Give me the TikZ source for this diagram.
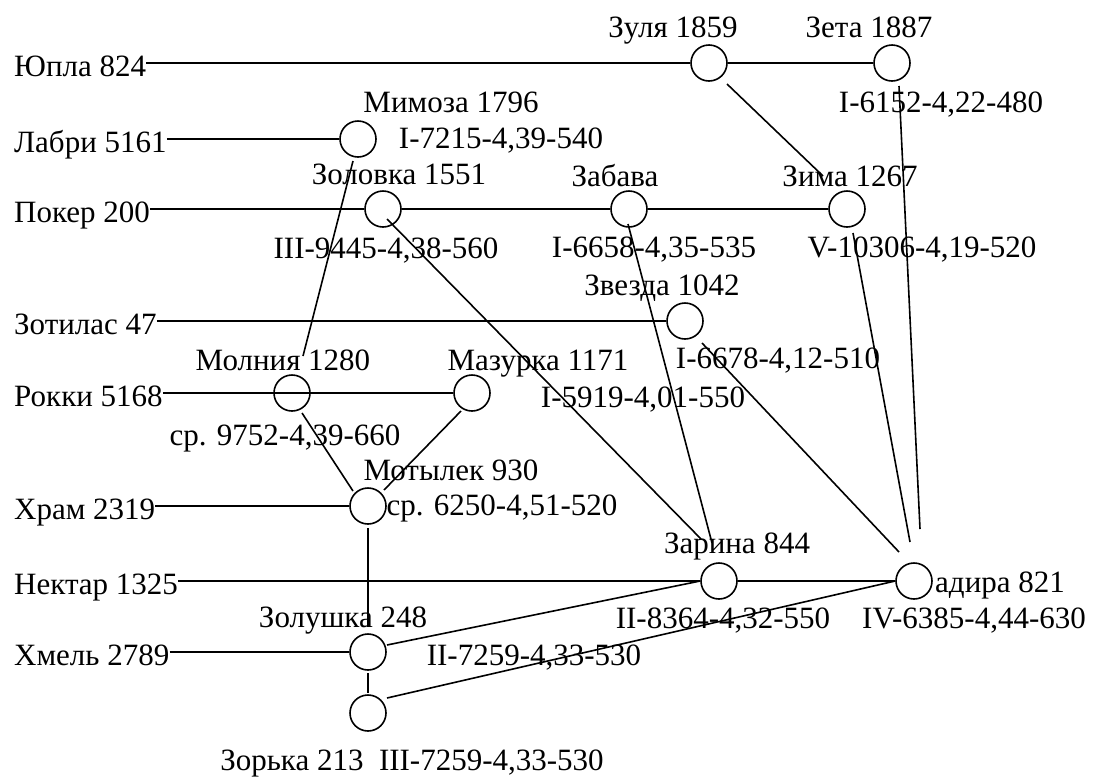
\documentclass[tikz,border=0pt]{standalone}
\usepackage{fontspec}
\setmainfont{Liberation Serif}
\usetikzlibrary{calc}
\begin{document}
\begin{tikzpicture}[x=1pt,y=-1pt,
  font=\fontsize{31}{37}\selectfont,
  stn/.style={ellipse/.try, circle, draw, line width=1.6pt, minimum width=34pt, minimum height=36pt, inner sep=0pt},
  lbl/.style={inner sep=0pt, anchor=base},
  src/.style={inner sep=0pt, anchor=base west},
  link/.style={line width=1.6pt}]
\useasboundingbox (0,0) rectangle (1094,780);

% horse names on the left
\node[src] (yupla)   at (14,76)  {Юпла 824};
\node[src] (labri)   at (14,152) {Лабри 5161};
\node[src] (poker)   at (14,222) {Покер 200};
\node[src] (zotilas) at (14,334) {Зотилас 47};
\node[src] (rokki)   at (14,406) {Рокки 5168};
\node[src] (khram)   at (14,519) {Храм 2319};
\node[src] (nektar)  at (14,594) {Нектар 1325};
\node[src] (khmel)   at (14,665) {Хмель 2789};

% descendants
\node[stn] (zuly)     at (709,63)  {};
\node[stn] (zeta)     at (892,63)  {};
\node[stn] (mimosa)   at (358,139) {};
\node[stn] (zolovka)  at (383,209) {};
\node[stn] (zabava)   at (629,209) {};
\node[stn] (zima)     at (847,209) {};
\node[stn] (zvezda)   at (685,321) {};
\node[stn] (molniya)  at (292,393) {};
\node[stn] (mazurka)  at (472,393) {};
\node[stn] (motylek)  at (368,506) {};
\node[stn] (zarina)   at (719,581) {};
\node[stn] (nadira)   at (914,581) {};
\node[stn] (zolushka) at (368,652) {};
\node[stn] (zorka)    at (368,713) {};

% names and records
\node[lbl] (tzuly)    at (673,37)  {Зуля 1859};
\node[lbl] (tzeta)    at (869,37)  {Зета 1887};
\node[lbl] (rzeta)    at (941,112) {I-6152-4,22-480};
\node[lbl] (tmimosa)  at (451,112) {Мимоза 1796};
\node[lbl] (rmimosa)  at (501,148) {I-7215-4,39-540};
\node[lbl] (tzolovka) at (399,184) {Золовка 1551};
\node[lbl] (tzabava)  at (615,186) {Забава};
\node[lbl] (tzima)    at (850,186) {Зима 1267};
\node[lbl] (rzolovka) at (386,258) {III-9445-4,38-560};
\node[lbl] (rzabava)  at (654,257) {I-6658-4,35-535};
\node[lbl] (rzima)    at (922,257) {V-10306-4,19-520};
\node[lbl] (tzvezda)  at (662,295) {Звезда 1042};
\node[lbl] (rzvezda)  at (778,368) {I-6678-4,12-510};
\node[lbl] (tmolniya) at (283,370) {Молния 1280};
\node[lbl] (tmazurka) at (538,370) {Мазурка 1171};
\node[lbl] (rmazurka) at (643,407) {I-5919-4,01-550};
\node[lbl] (rmolniya) at (285,445) {ср. 9752-4,39-660};
\node[lbl] (tmotylek) at (451,480) {Мотылек 930};
\node[lbl] (rmotylek) at (502,515) {ср. 6250-4,51-520};
\node[lbl] (tzarina)  at (737,553) {Зарина 844};
\node[src] (tnadira)  at (935,592) {адира 821};
\node[lbl] (rzarina)  at (723,628) {II-8364-4,32-550};
\node[lbl] (rnadira)  at (974,628) {IV-6385-4,44-630};
\node[lbl] (tzolushka) at (343,627) {Золушка 248};
\node[lbl] (rzolushka) at (534,665) {II-7259-4,33-530};
\node[lbl] (tzorka)   at (412,770) {Зорька 213~~III-7259-4,33-530};

% horizontal lines
\draw[link] (yupla.east |- zuly) -- (zuly) -- (zeta);
\draw[link] (labri.east |- mimosa) -- (mimosa);
\draw[link] (poker.east |- zolovka) -- (zolovka) -- (zabava) -- (zima);
\draw[link] (zotilas.east |- zvezda) -- (zvezda);
\draw[link] (rokki.east |- mazurka) -- (mazurka);
\draw[link] (khram.east |- motylek) -- (motylek);
\draw[link] (nektar.east |- zarina) -- (zarina) -- (nadira);
\draw[link] (khmel.east |- zolushka) -- (zolushka);

% pedigree links
\draw[link] ($(zuly)+(18,21)$) -- ($(zima)+(-24,-33)$);
\draw[link] ($(zeta)+(7,23)$) -- ($(nadira)+(6,-52)$);
\draw[link] ($(zima)+(6,24)$) -- ($(nadira)+(-4,-39)$);
\draw[link] ($(zvezda)+(17,22)$) -- ($(nadira)+(-15,-29)$);
\draw[link] ($(zolovka)+(4,10)$) -- ($(zarina)+(-18,-42)$);
\draw[link] ($(zabava)+(-1,15)$) -- ($(zarina)+(-7,-38)$);
\draw[link] ($(zolushka)+(19,-7)$) -- (zarina.west);
\draw[link] ($(zorka)+(19,-15)$) -- (nadira.west);
\draw[link] ($(molniya)+(10,20)$) -- ($(motylek)+(-15,-15)$);
\draw[link] ($(mazurka)+(-11,18)$) -- ($(motylek)+(16,-16)$);
\draw[link] ($(mimosa)+(-5,22)$) -- ($(molniya)+(11,-37)$);
\draw[link] ($(motylek)+(0,22)$) -- ($(zolushka)+(0,-25)$);
\draw[link] ($(zolushka)+(0,21)$) -- ($(zorka)+(0,-20)$);
\end{tikzpicture}
\end{document}
